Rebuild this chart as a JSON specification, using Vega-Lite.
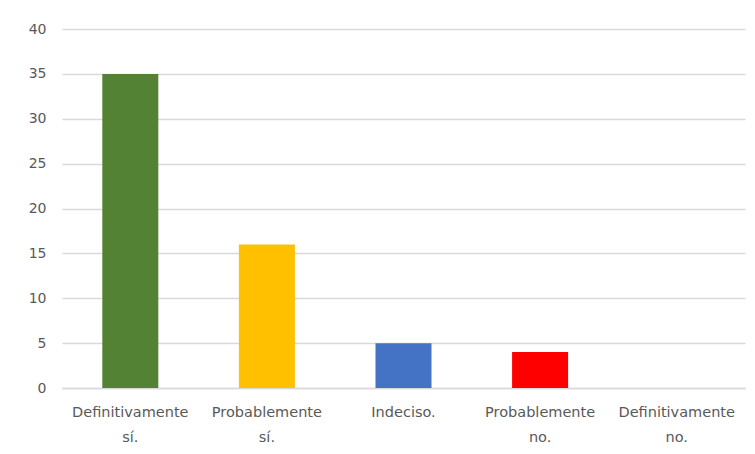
{
  "$schema": "https://vega.github.io/schema/vega-lite/v6.json",
  "autosize": "none",
  "width": 683,
  "height": 359,
  "padding": {"left": 62, "top": 29, "right": 10, "bottom": 66},
  "background": "white",
  "config": {"view": {"stroke": null}, "font": "DejaVu Sans"},
  "data": {"values": [
    {"cat": "Definitivamente|sí.", "value": 35, "color": "#548235"},
    {"cat": "Probablemente|sí.", "value": 16, "color": "#FFC000"},
    {"cat": "Indeciso.", "value": 5, "color": "#4472C4"},
    {"cat": "Probablemente|no.", "value": 4, "color": "#FF0000"},
    {"cat": "Definitivamente|no.", "value": 0, "color": "#A5A5A5"}
  ]},
  "mark": {"type": "bar"},
  "encoding": {
    "x": {
      "field": "cat", "type": "nominal", "sort": null,
      "scale": {"paddingInner": 0.59, "paddingOuter": 0.295},
      "axis": {
        "title": null, "labelAngle": 0, "labelExpr": "split(datum.label, '|')",
        "labelColor": "#595959", "labelFontSize": 14.5, "labelLineHeight": 25,
        "labelPadding": 17, "ticks": false, "domainColor": "#d9d9d9", "domainWidth": 1.5,
        "labelBaseline": "top", "labelLimit": 200
      }
    },
    "y": {
      "field": "value", "type": "quantitative",
      "scale": {"domain": [0, 40], "nice": false},
      "axis": {
        "title": null, "values": [0, 5, 10, 15, 20, 25, 30, 35, 40],
        "domain": false, "ticks": false, "labelColor": "#595959", "labelFontSize": 14,
        "labelPadding": 16, "gridColor": "#d9d9d9", "gridWidth": 1.5
      }
    },
    "color": {"field": "color", "type": "nominal", "scale": null, "legend": null}
  }
}
